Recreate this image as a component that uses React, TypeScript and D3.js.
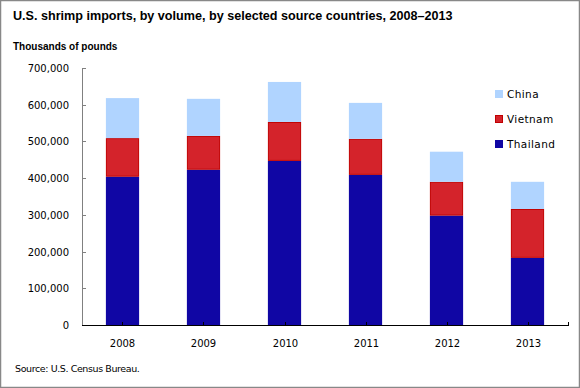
import React from 'react';
import * as d3 from 'd3';

const years = ['2008', '2009', '2010', '2011', '2012', '2013'];
const thailand = [404000, 423000, 447000, 409000, 298000, 183000];
const vietnam = [105000, 92000, 106000, 98000, 92000, 133000];
const china = [109000, 101000, 109000, 98000, 82000, 74000];
const yTicks = [0, 100000, 200000, 300000, 400000, 500000, 600000, 700000];

const seriesNames = ['Thailand', 'Vietnam', 'China'];
const fills = ['#1006A4', '#D4232B', '#B0D4FF'];
const strokes = ['none', '#C00000', 'none'];

const W = 580;
const H = 388;
const left = 82;
const right = 568;
const top = 68;
const bottom = 325;

const App = () => {
  const x = d3.scaleBand().domain(years).range([left, right]).paddingInner(0.59).paddingOuter(0.295);
  const y = d3.scaleLinear().domain([0, 700000]).range([bottom, top]);

  const rows = years.map((yr, i) => ({ year: yr, Thailand: thailand[i], Vietnam: vietnam[i], China: china[i] }));
  const stacked = d3.stack().keys(seriesNames)(rows as any);
  const fmt = d3.format(',');
  const tickFont = "'DejaVu Sans', Verdana, sans-serif";

  return (
    <svg width={W} height={H} style={{ position: 'absolute', left: 0, top: 0, background: '#fff' }}>
      <rect x={0.5} y={0.5} width={W - 1} height={H - 1} fill="#fff" stroke="#888" strokeWidth={1.5} />
      <text x={13} y={20} fontFamily="'Liberation Sans', Arial, sans-serif" fontWeight="bold" fontSize={12.6} fill="#000">
        U.S. shrimp imports, by volume, by selected source countries, 2008–2013
      </text>
      <text x={13} y={50} fontFamily="'Liberation Sans', Arial, sans-serif" fontWeight="bold" fontSize={10} fill="#000">
        Thousands  of pounds
      </text>

      {stacked.map((layer, si) => (
        <g key={seriesNames[si]}>
          {layer.map((d, i) => {
            const bx = x(years[i])!;
            const y0 = y(d[1]);
            const y1 = y(d[0]);
            return strokes[si] === 'none' ? (
              <rect key={i} x={bx} y={y0} width={x.bandwidth()} height={y1 - y0} fill={fills[si]} />
            ) : (
              <rect key={i} x={bx + 0.5} y={y0 + 0.5} width={x.bandwidth() - 1} height={y1 - y0 - 1}
                fill={fills[si]} stroke={strokes[si]} strokeWidth={1} />
            );
          })}
        </g>
      ))}

      {/* y axis */}
      <line x1={left + 0.5} x2={left + 0.5} y1={top} y2={bottom} stroke="#808080" strokeWidth={1} />
      {yTicks.map(t => (
        <g key={t}>
          <line x1={left} x2={left + 4} y1={Math.round(y(t)) + 0.5} y2={Math.round(y(t)) + 0.5} stroke="#808080" />
          <text x={69} y={y(t) + 4} textAnchor="end" fontFamily={tickFont} fontSize={10} fill="#000">
            {fmt(t)}
          </text>
        </g>
      ))}

      {/* x axis */}
      <line x1={left} x2={right + 0.5} y1={bottom + 0.5} y2={bottom + 0.5} stroke="#000" strokeWidth={1} />
      <line x1={right + 0.5} x2={right + 0.5} y1={bottom - 3} y2={bottom + 1} stroke="#000" />
      {years.map(yr => {
        const cx = Math.round(x(yr)! + x.bandwidth() / 2) + 0.5;
        return (
          <g key={yr}>
            <line x1={cx} x2={cx} y1={bottom - 3} y2={bottom} stroke="#000" />
            <text x={cx} y={347} textAnchor="middle" fontFamily={tickFont} fontSize={10} fill="#000">
              {yr}
            </text>
          </g>
        );
      })}

      {/* legend */}
      {['China', 'Vietnam', 'Thailand'].map((name, i) => {
        const si = seriesNames.indexOf(name);
        const ly = 90 + i * 25;
        return (
          <g key={name}>
            <rect x={495.5} y={ly + 0.5} width={7} height={7} fill={fills[si]}
              stroke={strokes[si] === 'none' ? fills[si] : strokes[si]} />
            <text x={507} y={ly + 8} fontFamily={tickFont} fontSize={10.5} letterSpacing={0.4} fill="#000">
              {name}
            </text>
          </g>
        );
      })}

      <text x={15} y={372} fontFamily={tickFont} fontSize={9.5} fill="#000" letterSpacing={-0.4}>
        Source: U.S. Census Bureau.
      </text>
    </svg>
  );
};

export default App;
